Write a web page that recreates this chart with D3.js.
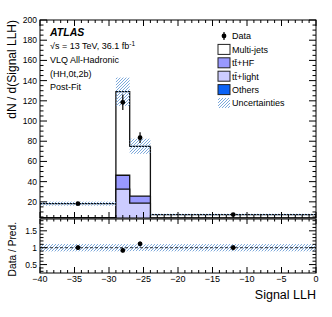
<!doctype html>
<html lang="en">
<head>
  <meta charset="UTF-8">
  <title>Signal LLH</title>
  <script src="https://cdn.jsdelivr.net/npm/d3@7/dist/d3.min.js"></script>
  <style>
    body { margin: 0; background: #fff; }
    svg { display: block; font-family: "Liberation Sans", Arial, Helvetica, sans-serif; }
  </style>
</head>
<body>
  <script>
    // bins of the Signal LLH distribution
    var binEdges   = [-40, -29, -27, -24, 0];
    var multijets  = [13.9, 82.7, 49.3, 3.4];
    var ttHF       = [1.3, 13.8, 6.9, 1.2];
    var ttLight    = [2.5, 32.0, 18.5, 2.5];
    var others     = [0.5, 0.5, 0.3, 0.3];
    var totalUnc   = [2.0, 14.0, 7.5, 0.8];
    var dataVals   = [18.2, 118.5, 83.5, 7.4];
    var dataErr    = [1.3, 7.7, 5.3, 0.55];

    var xTicks      = [-40, -35, -30, -25, -20, -15, -10, -5, 0];
    var yMainTicks  = [20, 40, 60, 80, 100, 120, 140, 160, 180, 200];
    var yRatioTicks = [0.5, 1, 1.5];

    var W = 332, H = 317;
    var L = 40, R = 316, mainTop = 20, mainBot = 218, ratTop = 219, ratBot = 273;

    var svg = d3.select("body").append("svg").attr("width", W).attr("height", H);
    var defs = svg.append("defs");

    var hatch = defs.append("pattern")
      .attr("id", "hatch").attr("patternUnits", "userSpaceOnUse")
      .attr("width", 3).attr("height", 3);
    hatch.append("path").attr("d", "M-1,1 l2,-2 M0,3 l3,-3 M2,4 l2,-2")
      .attr("stroke", "#6f9fd6").attr("stroke-width", 0.9);

    defs.append("clipPath").attr("id", "clipMain").append("rect")
      .attr("x", L).attr("y", mainTop).attr("width", R - L).attr("height", mainBot - mainTop);
    defs.append("clipPath").attr("id", "clipRat").append("rect")
      .attr("x", L).attr("y", ratTop).attr("width", R - L).attr("height", ratBot - ratTop);

    var x  = d3.scaleLinear().domain([-40, 0]).range([L, R]);
    var y  = d3.scaleLinear().domain([4, 200]).range([mainBot, mainTop]);
    var yr = d3.scaleLinear().domain([0.25, 1.85]).range([ratBot, ratTop]);

    var nb = binEdges.length - 1;
    var centers = d3.range(nb).map(function(i) { return (binEdges[i] + binEdges[i + 1]) / 2; });

    // cumulative stack, bottom to top: others, tt+light, tt+HF, multi-jets
    var order = [
      { vals: others,    fill: "#0b63f6" },
      { vals: ttLight,   fill: "#ccccff" },
      { vals: ttHF,      fill: "#9999ff" },
      { vals: multijets, fill: "#ffffff" }
    ];
    var cum = d3.range(nb).map(function() { return 0; });
    order.forEach(function(c) {
      cum = cum.map(function(v, i) { return v + c.vals[i]; });
      c.cum = cum.slice();
    });
    var total = cum.slice();

    function stepPts(vals) {
      return binEdges.map(function(e, i) { return { x: e, v: vals[Math.min(i, nb - 1)] }; });
    }
    var area = d3.area().curve(d3.curveStepAfter)
      .x(function(d) { return x(d.x); }).y0(y(0)).y1(function(d) { return y(d.v); });

    var gMain = svg.append("g").attr("clip-path", "url(#clipMain)");

    order.slice().reverse().forEach(function(c) {
      var pts = stepPts(c.cum);
      gMain.append("path").attr("d", area(pts)).attr("fill", c.fill)
        .attr("stroke", "#111").attr("stroke-width", 1.3);
    });

    // uncertainty band
    gMain.selectAll("rect.unc").data(d3.range(nb)).enter().append("rect")
      .attr("x", function(i) { return x(binEdges[i]); })
      .attr("width", function(i) { return x(binEdges[i + 1]) - x(binEdges[i]); })
      .attr("y", function(i) { return y(total[i] + totalUnc[i]); })
      .attr("height", function(i) { return y(total[i] - totalUnc[i]) - y(total[i] + totalUnc[i]); })
      .attr("fill", "url(#hatch)");

    // data
    gMain.selectAll("line.err").data(d3.range(nb)).enter().append("line")
      .attr("x1", function(i) { return x(centers[i]); }).attr("x2", function(i) { return x(centers[i]); })
      .attr("y1", function(i) { return y(dataVals[i] - dataErr[i]); })
      .attr("y2", function(i) { return y(dataVals[i] + dataErr[i]); })
      .attr("stroke", "#000").attr("stroke-width", 1.2);
    gMain.selectAll("circle.pt").data(d3.range(nb)).enter().append("circle")
      .attr("cx", function(i) { return x(centers[i]); })
      .attr("cy", function(i) { return y(dataVals[i]); })
      .attr("r", 2.4).attr("fill", "#000");

    // ratio panel
    var gRat = svg.append("g").attr("clip-path", "url(#clipRat)");
    gRat.selectAll("rect.unc").data(d3.range(nb)).enter().append("rect")
      .attr("x", function(i) { return x(binEdges[i]); })
      .attr("width", function(i) { return x(binEdges[i + 1]) - x(binEdges[i]); })
      .attr("y", function(i) { return yr(1 + totalUnc[i] / total[i]); })
      .attr("height", function(i) { return yr(1 - totalUnc[i] / total[i]) - yr(1 + totalUnc[i] / total[i]); })
      .attr("fill", "url(#hatch)");
    gRat.append("line").attr("x1", L).attr("x2", R).attr("y1", yr(1)).attr("y2", yr(1))
      .attr("stroke", "#000").attr("stroke-width", 0.8).attr("stroke-dasharray", "3,2");
    gRat.selectAll("line.err").data(d3.range(nb)).enter().append("line")
      .attr("x1", function(i) { return x(centers[i]); }).attr("x2", function(i) { return x(centers[i]); })
      .attr("y1", function(i) { return yr((dataVals[i] - dataErr[i]) / total[i]); })
      .attr("y2", function(i) { return yr((dataVals[i] + dataErr[i]) / total[i]); })
      .attr("stroke", "#000").attr("stroke-width", 1.2);
    gRat.selectAll("circle.pt").data(d3.range(nb)).enter().append("circle")
      .attr("cx", function(i) { return x(centers[i]); })
      .attr("cy", function(i) { return yr(dataVals[i] / total[i]); })
      .attr("r", 2.4).attr("fill", "#000");

    // frames and ticks
    function frame(top, bot) {
      svg.append("rect").attr("x", L).attr("y", top).attr("width", R - L).attr("height", bot - top)
        .attr("fill", "none").attr("stroke", "#000").attr("stroke-width", 1);
    }
    frame(mainTop, mainBot);
    frame(ratTop, ratBot);

    var tk = svg.append("g").attr("stroke", "#000").attr("stroke-width", 1);
    function xTickMarks(yPos, dir, maj, min) {
      d3.range(-40, 0.001, 1).forEach(function(v) {
        var len = (v % 5 === 0) ? maj : min;
        tk.append("line").attr("x1", x(v)).attr("x2", x(v)).attr("y1", yPos).attr("y2", yPos + dir * len);
      });
    }
    xTickMarks(mainTop, 1, 6, 3);
    xTickMarks(mainBot, -1, 6, 3);
    xTickMarks(ratTop, 1, 5, 2.5);
    xTickMarks(ratBot, -1, 6, 3);

    function yTickMarks(scale, lo, hi, step, majStep, maj, min) {
      var n = Math.round((hi - lo) / step);
      for (var k = 0; k <= n; k++) {
        var v = lo + k * step;
        if (v < scale.domain()[0] - 1e-9) continue;
        var isMaj = Math.abs(v / majStep - Math.round(v / majStep)) < 1e-6;
        var len = isMaj ? maj : min;
        tk.append("line").attr("x1", L).attr("x2", L + len).attr("y1", scale(v)).attr("y2", scale(v));
        tk.append("line").attr("x1", R).attr("x2", R - len).attr("y1", scale(v)).attr("y2", scale(v));
      }
    }
    yTickMarks(y, 5, 200, 5, 20, 7, 3.5);
    yTickMarks(yr, 0.3, 1.8, 0.1, 0.5, 7, 3.5);

    // tick labels
    svg.append("g").selectAll("text").data(yMainTicks).enter().append("text")
      .attr("x", 37).attr("y", function(d) { return y(d) + 3; })
      .attr("text-anchor", "end").attr("font-size", 8.5).text(function(d) { return d; });
    svg.append("g").selectAll("text").data(yRatioTicks).enter().append("text")
      .attr("x", 37).attr("y", function(d) { return yr(d) + 3; })
      .attr("text-anchor", "end").attr("font-size", 8.5).text(function(d) { return d; });
    svg.append("g").selectAll("text").data(xTicks).enter().append("text")
      .attr("x", function(d) { return x(d); }).attr("y", 281.5)
      .attr("text-anchor", "middle").attr("font-size", 9)
      .text(function(d) { return d < 0 ? "\u2212" + Math.abs(d) : d; });

    // axis titles
    svg.append("text").attr("x", 316).attr("y", 299).attr("text-anchor", "end")
      .attr("font-size", 12.5).text("Signal LLH");
    svg.append("text").attr("transform", "translate(16,20) rotate(-90)").attr("text-anchor", "end")
      .attr("font-size", 12).text("dN / d(Signal LLH)");
    svg.append("text").attr("transform", "translate(16,222) rotate(-90)").attr("text-anchor", "end")
      .attr("font-size", 10.2).text("Data / Pred.");

    // labels
    svg.append("text").attr("x", 50).attr("y", 36).attr("font-size", 10.5)
      .attr("font-weight", "bold").attr("font-style", "italic").text("ATLAS");
    var lum = svg.append("text").attr("x", 50).attr("y", 49).attr("font-size", 9);
    lum.append("tspan").text("\u221As = 13 TeV, 36.1 fb");
    lum.append("tspan").attr("dy", -3.5).attr("font-size", 6.5).text("-1");
    ["VLQ All-Hadronic", "(HH,0t,2b)", "Post-Fit"].forEach(function(t, i) {
      svg.append("text").attr("x", 50).attr("y", 63 + i * 13.5).attr("font-size", 9).text(t);
    });

    // legend
    var lg = svg.append("g");
    var lx = 218, ly0 = 36, dy = 13.4;
    lg.append("line").attr("x1", lx + 6).attr("x2", lx + 6).attr("y1", ly0 - 4).attr("y2", ly0 + 4)
      .attr("stroke", "#000").attr("stroke-width", 1.2);
    lg.append("circle").attr("cx", lx + 6).attr("cy", ly0).attr("r", 2.4).attr("fill", "#000");
    var entries = [
      { name: "Data" },
      { name: "Multi-jets", fill: "#ffffff" },
      { name: "t\u0074\u0304+HF", fill: "#9999ff" },
      { name: "t\u0074\u0304+light", fill: "#ccccff" },
      { name: "Others", fill: "#0b63f6" },
      { name: "Uncertainties", fill: "url(#hatch)", noStroke: true }
    ];
    entries.forEach(function(e, i) {
      var cy = ly0 + i * dy;
      if (e.fill) {
        lg.append("rect").attr("x", lx).attr("y", cy - 5).attr("width", 12).attr("height", 10)
          .attr("fill", e.fill).attr("stroke", e.noStroke ? "none" : "#222").attr("stroke-width", 1);
      }
      lg.append("text").attr("x", lx + 14).attr("y", cy + 3.3).attr("font-size", 9).text(e.name);
    });
  </script>
</body>
</html>
